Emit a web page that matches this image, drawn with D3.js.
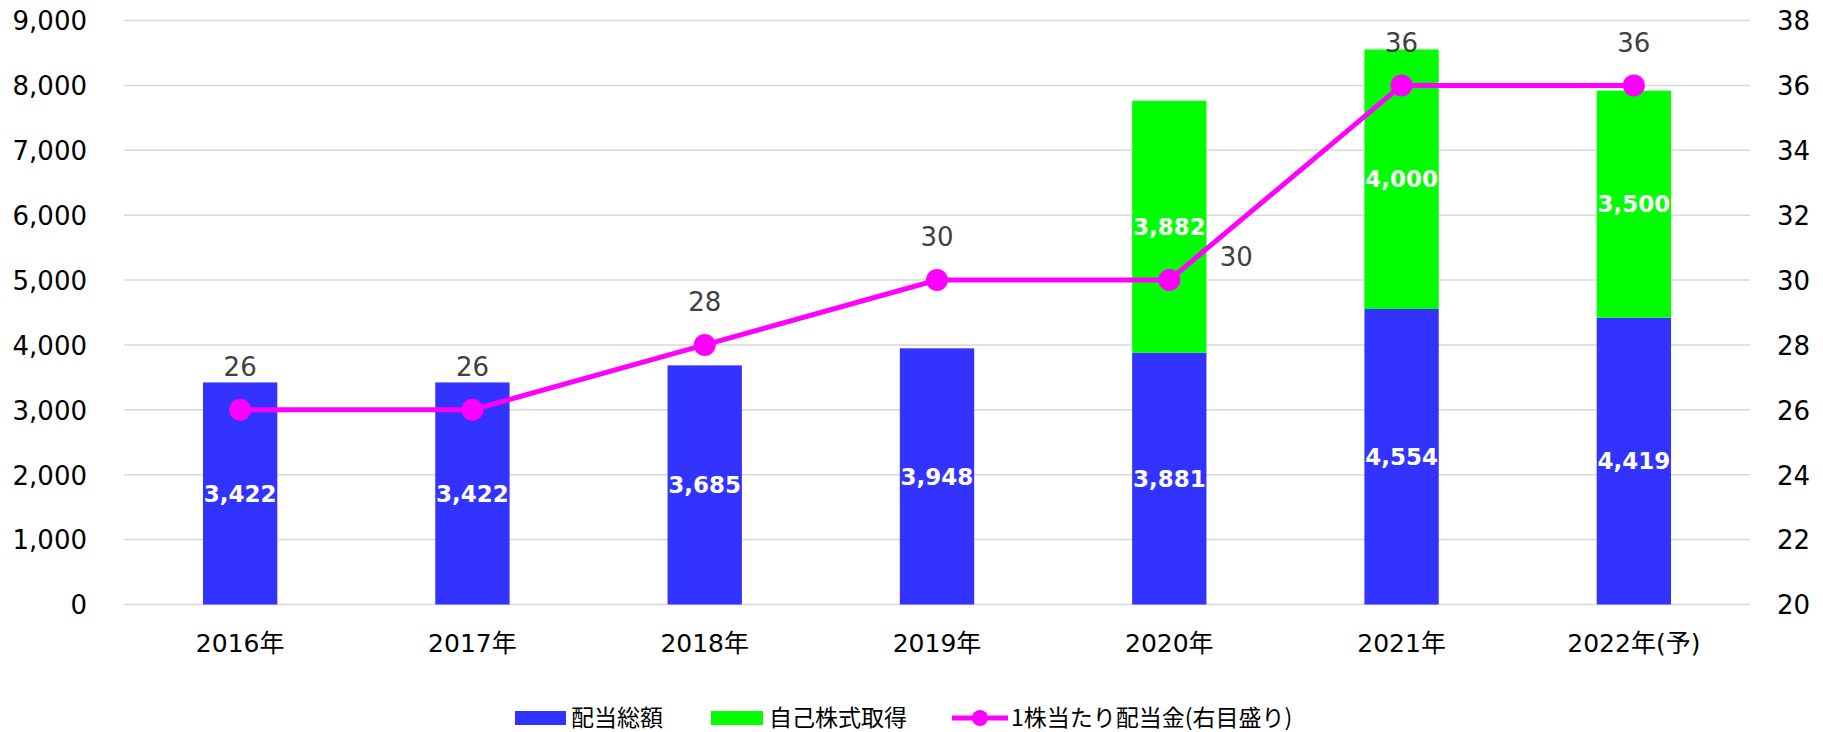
<!DOCTYPE html>
<html>
<head>
<meta charset="utf-8">
<script src="https://cdn.jsdelivr.net/npm/d3@7"></script>
<style>
  body { margin: 0; background: #fff; }
  svg { display: block; }
</style>
</head>
<body>
<div id="chart"></div>
<script>
// Data
var years = ["2016年", "2017年", "2018年", "2019年", "2020年", "2021年", "2022年(予)"];
var dividendTotal = [3422, 3422, 3685, 3948, 3881, 4554, 4419];
var buyback = [0, 0, 0, 0, 3882, 4000, 3500];
var dps = [26, 26, 28, 30, 30, 36, 36];
var leftTicks = [0, 1000, 2000, 3000, 4000, 5000, 6000, 7000, 8000, 9000];
var rightTicks = [20, 22, 24, 26, 28, 30, 32, 34, 36, 38];

document.addEventListener("DOMContentLoaded", function() {
    var w = 1823;
    var h = 732;
    var left = 124, right = 1750, top = 20.5, bottom = 604.5;

    var font = "'DejaVu Sans', Verdana, 'Noto Sans CJK JP', sans-serif";
    var cjkFont = "'Noto Sans CJK JP', sans-serif";

    var svg = d3.select("#chart")
        .append("svg")
        .attr("width", w)
        .attr("height", h);

    // Scales
    var xScale = d3.scaleBand()
        .domain(years)
        .range([left, right]);

    var barW = xScale.bandwidth() * 0.32;

    var yLeft = d3.scaleLinear()
        .domain([0, 9000])
        .range([bottom, top]);

    var yRight = d3.scaleLinear()
        .domain([20, 38])
        .range([bottom, top]);

    function cx(i) {
        return xScale(years[i]) + xScale.bandwidth() / 2;
    }

    // Gridlines
    svg.append("g")
        .selectAll("line")
        .data(leftTicks)
        .enter()
        .append("line")
        .attr("x1", left)
        .attr("x2", right)
        .attr("y1", function(d) { return yLeft(d); })
        .attr("y2", function(d) { return yLeft(d); })
        .attr("stroke", "#d9d9d9")
        .attr("stroke-width", 1.5);

    // Left axis
    var axisL = svg.append("g")
        .attr("transform", "translate(" + left + ",0)")
        .call(d3.axisLeft(yLeft).tickValues(leftTicks).tickFormat(d3.format(",")).tickSize(0).tickPadding(37));
    axisL.select(".domain").remove();
    axisL.selectAll("text")
        .attr("font-family", font)
        .attr("font-size", 26)
        .attr("fill", "#000")
        .attr("dy", "0.36em");

    // Right axis
    var axisR = svg.append("g")
        .attr("transform", "translate(" + right + ",0)")
        .call(d3.axisRight(yRight).tickValues(rightTicks).tickSize(0).tickPadding(27));
    axisR.select(".domain").remove();
    axisR.selectAll("text")
        .attr("font-family", font)
        .attr("font-size", 26)
        .attr("fill", "#000")
        .attr("dy", "0.36em");

    // X axis labels
    var axisX = svg.append("g")
        .attr("transform", "translate(0," + bottom + ")")
        .call(d3.axisBottom(xScale).tickSize(0).tickPadding(30));
    axisX.select(".domain").remove();
    axisX.selectAll("text")
        .attr("font-family", font)
        .attr("font-size", 25)
        .attr("fill", "#000");

    // Bars: dividend total
    svg.append("g")
        .selectAll("rect")
        .data(dividendTotal)
        .enter()
        .append("rect")
        .attr("x", function(d, i) { return cx(i) - barW / 2; })
        .attr("y", function(d) { return yLeft(d); })
        .attr("width", barW)
        .attr("height", function(d) { return yLeft(0) - yLeft(d); })
        .attr("fill", "#3333ff");

    // Bars: buyback stacked on top
    svg.append("g")
        .selectAll("rect")
        .data(buyback)
        .enter()
        .append("rect")
        .attr("x", function(d, i) { return cx(i) - barW / 2; })
        .attr("y", function(d, i) { return yLeft(dividendTotal[i] + d); })
        .attr("width", barW)
        .attr("height", function(d, i) { return yLeft(dividendTotal[i]) - yLeft(dividendTotal[i] + d); })
        .attr("fill", "#00ff00");

    // Bar labels
    svg.append("g")
        .selectAll("text")
        .data(dividendTotal)
        .enter()
        .append("text")
        .text(function(d) { return d3.format(",")(d); })
        .attr("x", function(d, i) { return cx(i); })
        .attr("y", function(d) { return (yLeft(0) + yLeft(d)) / 2; })
        .attr("dy", "0.36em")
        .attr("text-anchor", "middle")
        .attr("font-family", font)
        .attr("font-weight", "bold")
        .attr("font-size", 23)
        .attr("fill", "#fff");

    svg.append("g")
        .selectAll("text")
        .data(buyback)
        .enter()
        .append("text")
        .text(function(d) { return d > 0 ? d3.format(",")(d) : ""; })
        .attr("x", function(d, i) { return cx(i); })
        .attr("y", function(d, i) { return (yLeft(dividendTotal[i]) + yLeft(dividendTotal[i] + d)) / 2; })
        .attr("dy", "0.36em")
        .attr("text-anchor", "middle")
        .attr("font-family", font)
        .attr("font-weight", "bold")
        .attr("font-size", 23)
        .attr("fill", "#fff");

    // Line: dividend per share
    var line = d3.line()
        .x(function(d, i) { return cx(i); })
        .y(function(d) { return yRight(d); });

    svg.append("path")
        .datum(dps)
        .attr("d", line)
        .attr("fill", "none")
        .attr("stroke", "#ff00ff")
        .attr("stroke-width", 5);

    svg.append("g")
        .selectAll("circle")
        .data(dps)
        .enter()
        .append("circle")
        .attr("cx", function(d, i) { return cx(i); })
        .attr("cy", function(d) { return yRight(d); })
        .attr("r", 11)
        .attr("fill", "#ff00ff");

    // Line labels (2020 label sits to the right of its point)
    svg.append("g")
        .selectAll("text")
        .data(dps)
        .enter()
        .append("text")
        .text(function(d) { return d; })
        .attr("x", function(d, i) { return i === 4 ? cx(i) + 67 : cx(i); })
        .attr("y", function(d, i) { return yRight(d) - (i === 4 ? 23 : 43); })
        .attr("dy", "0.36em")
        .attr("text-anchor", "middle")
        .attr("font-family", font)
        .attr("font-size", 26)
        .attr("fill", "#404040");

    // Legend
    var legend = svg.append("g");
    var ly = 718;

    legend.append("rect")
        .attr("x", 515).attr("y", ly - 7).attr("width", 51).attr("height", 14)
        .attr("fill", "#3333ff");
    legend.append("text")
        .text("配当総額")
        .attr("x", 571).attr("y", ly).attr("dy", "0.36em")
        .attr("font-family", cjkFont).attr("font-size", 23).attr("fill", "#000");

    legend.append("rect")
        .attr("x", 711).attr("y", ly - 7).attr("width", 52).attr("height", 14)
        .attr("fill", "#00ff00");
    legend.append("text")
        .text("自己株式取得")
        .attr("x", 769).attr("y", ly).attr("dy", "0.36em")
        .attr("font-family", cjkFont).attr("font-size", 23).attr("fill", "#000");

    legend.append("line")
        .attr("x1", 952).attr("x2", 1008).attr("y1", ly).attr("y2", ly)
        .attr("stroke", "#ff00ff").attr("stroke-width", 5);
    legend.append("circle")
        .attr("cx", 980).attr("cy", ly).attr("r", 8)
        .attr("fill", "#ff00ff");
    legend.append("text")
        .text("1株当たり配当金(右目盛り)")
        .attr("x", 1011).attr("y", ly).attr("dy", "0.36em")
        .attr("font-family", cjkFont).attr("font-size", 23).attr("fill", "#000");
});
</script>
</body>
</html>
